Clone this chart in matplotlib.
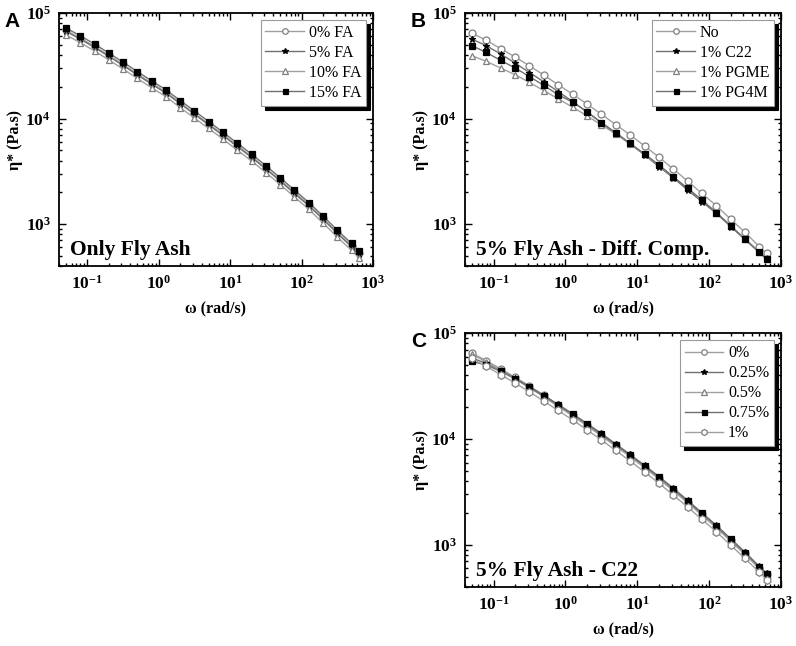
import numpy as np
import matplotlib
matplotlib.use('Agg')
import matplotlib.pyplot as plt
from matplotlib.ticker import LogLocator, NullFormatter, FuncFormatter

plt.rcParams['font.family'] = ['Liberation Serif', 'DejaVu Serif']
plt.rcParams['mathtext.fontset'] = 'custom'
plt.rcParams['mathtext.rm'] = 'Liberation Serif'
plt.rcParams['mathtext.bf'] = 'Liberation Serif:bold'

# frequency sweep (rad/s)
omega = [0.05, 0.0792, 0.126, 0.2, 0.315, 0.5, 0.792, 1.26, 2.0, 3.15, 5.0,
         7.92, 12.6, 20.0, 31.5, 50.0, 79.2, 126, 200, 315, 500, 628]

# panel A - only fly ash
fa_labels = ['0% FA', '5% FA', '10% FA', '15% FA']
fa_0 = [68500, 58000, 48300, 39600, 32600, 26500, 21700, 17800, 14100, 11200, 8900,
        7050, 5540, 4360, 3400, 2610, 2000, 1520, 1130, 833, 622, 530]
fa_5 = [67000, 56700, 47200, 38800, 31900, 25900, 21200, 17400, 13800, 11000, 8710,
        6900, 5420, 4270, 3330, 2560, 1950, 1490, 1110, 816, 609, 519]
fa_10 = [62000, 52500, 43700, 35900, 29500, 24000, 19600, 16100, 12700, 10100, 8060,
         6380, 5010, 3950, 3080, 2370, 1810, 1380, 1020, 754, 563, 480]
fa_15 = [72100, 61000, 50800, 41700, 34300, 27900, 22800, 18700, 14800, 11800, 9370,
         7420, 5830, 4590, 3580, 2750, 2100, 1600, 1190, 877, 655, 558]

# panel B - 5% fly ash, different compatibilizers
comp_labels = ['No', '1% C22', '1% PGME', '1% PG4M']
comp_no = [64600, 55000, 45900, 38200, 31600, 25800, 20900, 17000, 13700, 11000, 8770,
           7000, 5500, 4300, 3330, 2560, 1950, 1490, 1110, 834, 610, 527]
comp_c22 = [56600, 49000, 40800, 33500, 27300, 22300, 18000, 14500, 11500, 9160, 7260,
            5740, 4520, 3500, 2750, 2100, 1630, 1260, 944, 715, 538, 472]
comp_pgme = [39400, 34800, 30100, 26000, 22000, 18400, 15400, 12800, 10600, 8710, 7150,
             5740, 4580, 3600, 2810, 2180, 1690, 1280, 965, 726, 546, 479]
comp_pg4m = [49000, 42300, 35500, 30100, 25000, 20600, 16800, 14300, 11600, 9160, 7360,
             5830, 4620, 3630, 2810, 2180, 1690, 1280, 958, 715, 538, 462]

# panel C - 5% fly ash, C22 content
c22_labels = ['0%', '0.25%', '0.5%', '0.75%', '1%']
c22_0 = [64600, 55000, 45900, 38200, 31600, 25800, 20900, 17000, 13700, 11000, 8770,
         7000, 5500, 4300, 3330, 2560, 1950, 1490, 1110, 834, 610, 527]
c22_025 = [58000, 52000, 44500, 37600, 31300, 25900, 21200, 17300, 14000, 11300, 9000,
           7150, 5640, 4420, 3440, 2640, 2010, 1530, 1140, 855, 625, 540]
c22_05 = [63000, 53500, 44500, 37000, 30500, 25000, 20300, 16500, 13300, 10700, 8550,
          6800, 5350, 4190, 3250, 2500, 1900, 1450, 1080, 812, 595, 515]
c22_075 = [54000, 50000, 43500, 37000, 30800, 25500, 20900, 17100, 13800, 11100, 8850,
           7050, 5560, 4360, 3390, 2600, 1980, 1510, 1125, 845, 618, 530]
c22_1 = [58000, 48500, 40500, 33700, 27900, 22800, 18600, 15100, 12200, 9800, 7800,
         6200, 4880, 3820, 2960, 2280, 1740, 1330, 990, 745, 550, 470]

styles = [
    dict(marker='o', mfc='white', mec='#808080', color='#a0a0a0', ms=5),
    dict(marker='*', mfc='black', mec='black', color='#707070', ms=5),
    dict(marker='^', mfc='white', mec='#808080', color='#a0a0a0', ms=5),
    dict(marker='s', mfc='black', mec='black', color='#707070', ms=4.5),
    dict(marker='h', mfc='white', mec='#808080', color='#a0a0a0', ms=5.5),
]

fig = plt.figure(figsize=(7.96, 6.46), dpi=100)
axA = fig.add_axes([0.0741, 0.5882, 0.3945, 0.3916])
axB = fig.add_axes([0.5842, 0.5882, 0.397, 0.3916])
axC = fig.add_axes([0.5842, 0.0913, 0.397, 0.393])

panels = [
    (axA, [fa_0, fa_5, fa_10, fa_15], fa_labels, 'Only Fly Ash', 'A'),
    (axB, [comp_no, comp_c22, comp_pgme, comp_pg4m], comp_labels, '5% Fly Ash - Diff. Comp.', 'B'),
    (axC, [c22_0, c22_025, c22_05, c22_075, c22_1], c22_labels, '5% Fly Ash - C22', 'C'),
]

pow_fmt = FuncFormatter(lambda v, p: r'$\mathbf{10^{%d}}$' % round(np.log10(v)))

for ax, series, labels, title, letter in panels:
    for i, (y, lab) in enumerate(zip(series, labels)):
        ax.plot(omega, y, lw=1.0, mew=0.9, label=lab, **styles[i])
    ax.set_xscale('log')
    ax.set_yscale('log')
    ax.set_xlim(0.04, 1000)
    ax.set_ylim(400, 1e5)
    ax.xaxis.set_major_locator(LogLocator(base=10, numticks=10))
    ax.yaxis.set_major_locator(LogLocator(base=10, numticks=10))
    ax.xaxis.set_minor_locator(LogLocator(base=10, subs=np.arange(2, 10), numticks=20))
    ax.yaxis.set_minor_locator(LogLocator(base=10, subs=np.arange(2, 10), numticks=20))
    ax.xaxis.set_major_formatter(pow_fmt)
    ax.yaxis.set_major_formatter(pow_fmt)
    ax.xaxis.set_minor_formatter(NullFormatter())
    ax.yaxis.set_minor_formatter(NullFormatter())
    ax.tick_params(which='both', direction='in', top=True, right=True, width=1.0)
    ax.tick_params(which='major', length=5, labelsize=12.5, pad=6)
    ax.tick_params(which='minor', length=2.5)
    for sp in ax.spines.values():
        sp.set_linewidth(1.3)
    ax.set_xlabel('ω (rad/s)', fontsize=11.5, fontweight='bold', labelpad=6)
    ax.set_ylabel('η* (Pa.s)', fontsize=11.5, fontweight='bold', labelpad=2)
    ax.text(0.035, 0.025, title, transform=ax.transAxes, fontsize=15.5,
            fontweight='bold', ha='left', va='bottom')
    leg = ax.legend(loc='upper right', fontsize=11.5, frameon=True, fancybox=False,
                    framealpha=1, edgecolor='#9a9a9a', borderpad=0.3,
                    labelspacing=0.25, handlelength=2.4, handletextpad=0.3,
                    borderaxespad=0.45, markerscale=0.8,
                    shadow={'ox': 3, 'oy': -3, 'color': 'black', 'alpha': 1})
    leg.get_frame().set_linewidth(0.8)
    bb = ax.get_position()
    fig.text(bb.x0 - 0.068, bb.y1 + 0.002, letter, fontsize=15, fontweight='bold',
             family=['Liberation Sans', 'DejaVu Sans'], ha='left', va='top')

fig.savefig('out.png', dpi=100)
